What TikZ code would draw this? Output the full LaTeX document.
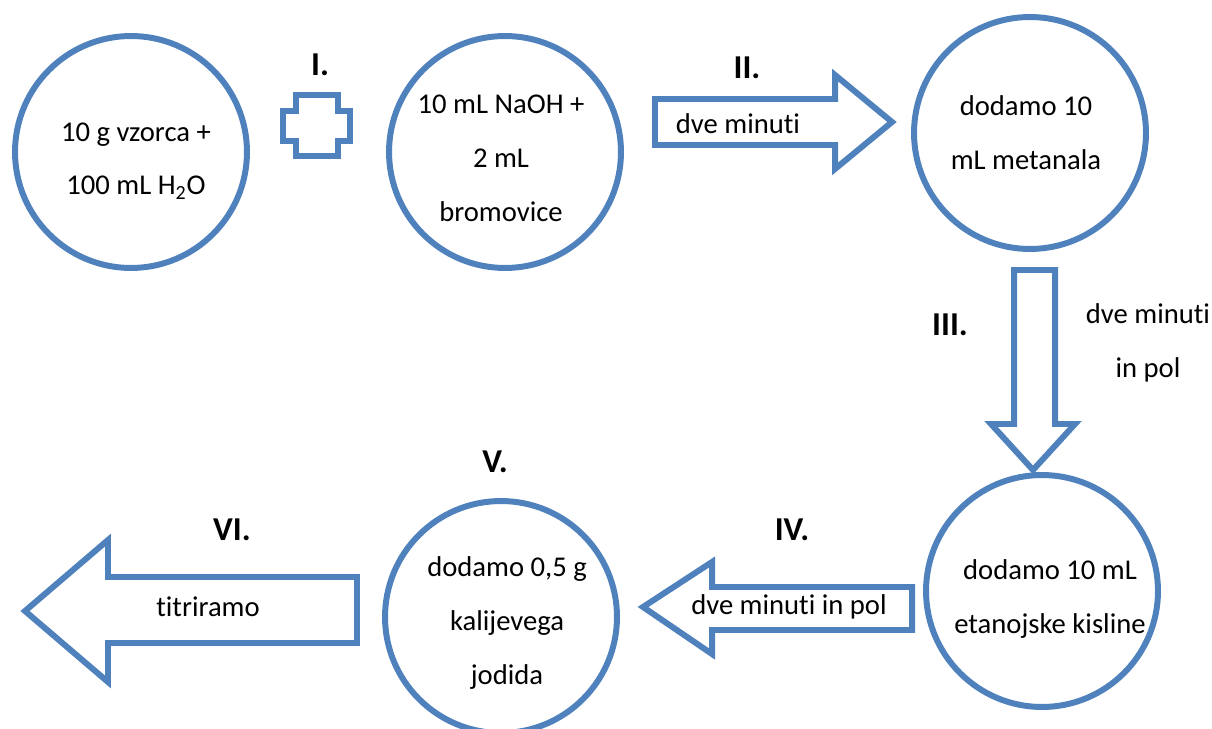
\documentclass[tikz,border=0pt]{standalone}
\usepackage{fontspec}
\setmainfont{Carlito}[Ligatures=NoCommon]
\definecolor{stepblue}{RGB}{79, 129, 189}

\begin{document}
\begin{tikzpicture}[x=0.02cm, y=-0.02cm, line join=miter,
  vessel/.style={draw=stepblue, line width=3.4pt, circle, minimum size=4.64cm, inner sep=0pt},
  blockarrow/.style={draw=stepblue, line width=3.4pt, fill=white},
  steptext/.style={font=\fontsize{16.3}{30.7}\selectfont, align=center},
  stepnum/.style={font=\fontsize{19}{22}\selectfont\bfseries}]
  \useasboundingbox (0, 0) rectangle (1212, 729);

  % Sample and reagents
  \node[vessel] (sample) at (131, 152) {};
  \node[steptext] (sampletext) at (136, 161) {10 g vzorca +\\100 mL H\textsubscript{2}O};

  \draw[blockarrow] (296, 95) -- (338, 95) -- (338, 111) -- (350, 111) -- (350, 141)
    -- (338, 141) -- (338, 156) -- (296, 156) -- (296, 141) -- (283, 141)
    -- (283, 111) -- (296, 111) -- cycle;
  \node[stepnum] (stepI) at (320, 65) {I.};

  \node[vessel] (naoh) at (505, 152) {};
  \node[steptext] (naohtext) at (501, 158) {10 mL NaOH +\\2 mL\\bromovice};

  % Step II
  \draw[blockarrow] (655, 99) -- (835, 99) -- (835, 75) -- (892, 122) -- (835, 169)
    -- (835, 145) -- (655, 145) -- cycle;
  \node[stepnum] (stepII) at (747, 68) {II.};
  \node[steptext] (waitII) at (738, 124) {dve minuti};

  \node[vessel] (metanal) at (1030, 133) {};
  \node[steptext] (metanaltext) at (1026, 133) {dodamo 10\\mL metanala};

  % Step III
  \draw[blockarrow] (1014, 270) -- (1055, 270) -- (1055, 424) -- (1075, 424) -- (1033, 470)
    -- (991, 424) -- (1014, 424) -- cycle;
  \node[stepnum] (stepIII) at (950, 325) {III.};
  \node[steptext] (waitIII) at (1148, 343) {dve minuti\\in pol};

  \node[vessel] (kislina) at (1042, 591) {};
  \node[steptext] (kislinatext) at (1050, 599) {dodamo 10 mL\\etanojske kisline};

  % Step IV
  \draw[blockarrow] (912, 587) -- (712, 587) -- (712, 562) -- (643, 607) -- (712, 654)
    -- (712, 630) -- (912, 630) -- cycle;
  \node[stepnum] (stepIV) at (792, 530) {IV.};
  \node[steptext] (waitIV) at (789, 607) {dve minuti in pol};

  % Step V
  \node[vessel] (jodid) at (501, 617) {};
  \node[steptext] (jodidtext) at (507, 623) {dodamo 0,5 g\\kalijevega\\jodida};
  \node[stepnum] (stepV) at (495, 462) {V.};

  % Step VI
  \draw[blockarrow] (357, 577) -- (108, 577) -- (108, 540) -- (25, 611) -- (108, 682)
    -- (108, 643) -- (357, 643) -- cycle;
  \node[stepnum] (stepVI) at (232, 530) {VI.};
  \node[steptext] (titracija) at (208, 607) {titriramo};
\end{tikzpicture}
\end{document}
